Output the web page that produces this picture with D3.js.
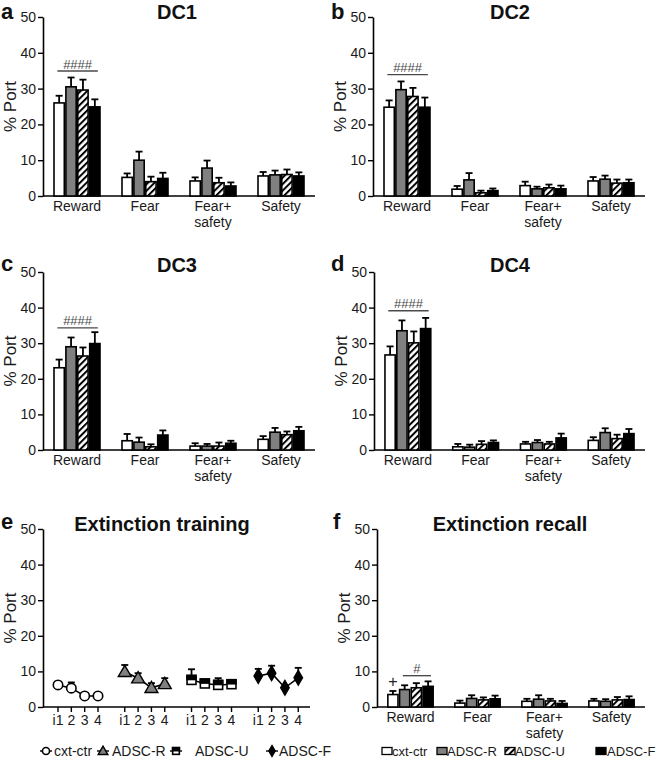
<!DOCTYPE html>
<html>
<head>
<meta charset="utf-8">
<script src="https://cdn.jsdelivr.net/npm/d3@7"></script>
<style>
  body { margin: 0; background: #fff; }
  svg { display: block; font-family: Arial, "Liberation Sans", sans-serif; }
</style>
</head>
<body>
<svg id="chart" width="660" height="765"></svg>
<script>
// ---------------- DATA ----------------
const categories = ["Reward", "Fear", "Fear+\nsafety", "Safety"];
const groups = ["cxt-ctr", "ADSC-R", "ADSC-U", "ADSC-F"];
const yTicks = [0, 10, 20, 30, 40, 50];
const trialLabels = ["i1", "2", "3", "4"];

// means per category (rows) x group (cols)
const dc1Mean = [[26.0, 30.5, 29.6, 24.9], [5.2, 10.0, 4.0, 4.9], [4.2, 7.8, 3.7, 2.8], [5.6, 5.9, 6.0, 5.6]];
const dc1Sem  = [[2.0, 2.6, 2.9, 2.1], [1.1, 2.4, 1.4, 1.6], [1.0, 2.1, 1.4, 1.0], [1.1, 1.2, 1.4, 1.0]];
const dc2Mean = [[24.8, 29.7, 27.8, 24.8], [1.9, 4.5, 0.9, 1.5], [2.9, 2.0, 2.3, 2.0], [4.2, 4.7, 3.6, 3.7]];
const dc2Sem  = [[1.9, 2.3, 2.4, 2.7], [0.9, 1.9, 0.6, 0.6], [1.1, 0.6, 0.9, 0.9], [1.1, 1.0, 1.0, 0.9]];
const dc3Mean = [[23.1, 29.0, 26.4, 29.9], [2.6, 2.2, 0.9, 4.2], [1.1, 1.1, 1.1, 1.9], [3.0, 5.0, 4.3, 5.4]];
const dc3Sem  = [[2.3, 2.6, 2.4, 3.2], [1.9, 1.3, 0.7, 1.3], [0.8, 0.6, 1.0, 0.7], [0.9, 1.2, 0.9, 1.1]];
const dc4Mean = [[26.7, 33.5, 30.1, 34.1], [0.9, 0.8, 1.6, 2.1], [1.7, 2.1, 1.7, 3.4], [2.7, 4.9, 3.2, 4.6]];
const dc4Sem  = [[2.4, 2.9, 3.2, 3.0], [0.8, 0.7, 0.9, 0.6], [0.6, 0.7, 0.6, 1.2], [0.9, 1.2, 1.1, 1.3]];
const recallMean = [[3.5, 4.9, 5.4, 5.8], [1.1, 2.4, 2.0, 2.3], [1.6, 2.2, 1.7, 1.0], [1.7, 1.6, 2.0, 2.1]];
const recallSem  = [[1.0, 1.2, 1.3, 1.4], [0.7, 0.9, 0.7, 0.9], [0.7, 1.1, 0.6, 0.7], [0.6, 0.6, 0.8, 0.9]];

// extinction training: per group (rows) x trial (cols)
const extMean = [[6.2, 5.3, 3.1, 3.1], [9.9, 8.1, 5.4, 6.5], [7.6, 6.6, 6.2, 6.4], [8.7, 9.5, 5.4, 8.2]];
const extSem  = [[0.9, 1.6, 0.0, 0.0], [1.9, 1.4, 1.3, 1.6], [3.0, 0.8, 1.9, 0.7], [2.0, 2.1, 0.0, 2.8]];

// significance annotations (value level of the bracket)
const sigLevels = { a: 34.9, b: 33.9, c: 34.3, d: 39.1, f: 8.8 };
const sigLabels = { a: "####", b: "####", c: "####", d: "####", f: "#" };
const plusLevel = 7.1;

// ---------------- DRAW ----------------
const svg = d3.select("#chart");
const grayFill = "#808080";
const sigColor = "#4a4a4a";

const defs = svg.append("defs");
const pat = defs.append("pattern")
  .attr("id", "hatch").attr("patternUnits", "userSpaceOnUse")
  .attr("width", 4.6).attr("height", 4.6)
  .attr("patternTransform", "rotate(45)");
pat.append("rect").attr("width", 4.6).attr("height", 4.6).attr("fill", "#fff");
pat.append("line").attr("x1", 1).attr("y1", 0).attr("x2", 1).attr("y2", 4.6)
  .attr("stroke", "#000").attr("stroke-width", 2);

const barFill = ["#ffffff", grayFill, "url(#hatch)", "#000000"];

function yAxis(g, y) {
  const ax = d3.axisLeft(y).tickValues(yTicks).tickSize(5).tickSizeOuter(0).tickPadding(2);
  g.call(ax);
  g.select(".domain").attr("stroke", "#000").attr("stroke-width", 1.6);
  g.selectAll(".tick line").attr("stroke", "#000").attr("stroke-width", 1.4);
  g.selectAll(".tick text").attr("font-size", 14).attr("fill", "#1a1a1a")
    .attr("font-family", "Arial, 'Liberation Sans', sans-serif");
}

function frame(p) {
  const y = d3.scaleLinear().domain([0, 50]).range([p.yb, p.yt]);
  const g = svg.append("g");
  g.append("g").attr("transform", `translate(${p.x0},0)`).call(yAxis, y);
  g.append("line").attr("x1", p.x0).attr("x2", p.x1).attr("y1", p.yb).attr("y2", p.yb)
    .attr("stroke", "#000").attr("stroke-width", 1.6);
  g.append("text")
    .attr("transform", `translate(${p.x0 - 27},${(p.yt + p.yb) / 2}) rotate(-90)`)
    .attr("text-anchor", "middle").attr("font-size", 17).attr("fill", "#1a1a1a")
    .text("% Port");
  g.append("text").attr("x", p.lx).attr("y", p.ly).attr("font-size", 22)
    .attr("font-weight", "bold").attr("fill", "#111").text(p.letter);
  g.append("text").attr("x", p.tx).attr("y", p.ty).attr("text-anchor", "middle")
    .attr("font-size", 20).attr("font-weight", "bold").attr("fill", "#111").text(p.title);
  return { g, y };
}

function barPanel(p, means, sems) {
  const { g, y } = frame(p);
  const x = d3.scaleBand().domain(categories).range([p.x0, p.x1]).paddingInner(0.3).paddingOuter(0.15);
  const xi = d3.scaleBand().domain(groups).range([0, x.bandwidth()]);
  categories.forEach(c => {
    const lines = c.split("\n");
    const t = g.append("text").attr("text-anchor", "middle").attr("font-size", 14).attr("fill", "#1a1a1a");
    lines.forEach((ln, i) => {
      t.append("tspan").attr("x", x(c) + x.bandwidth() / 2).attr("y", p.yb + 15 + i * 16).text(ln);
    });
  });
  categories.forEach((c, ci) => {
    const cg = g.append("g").attr("transform", `translate(${x(c)},0)`);
    groups.forEach((gr, gi) => {
      const m = means[ci][gi], s = sems[ci][gi];
      const bx = xi(gr), bw = xi.bandwidth();
      const cx = bx + bw / 2;
      if (s > 0) {
        cg.append("line").attr("x1", cx).attr("x2", cx).attr("y1", y(m)).attr("y2", y(m + s))
          .attr("stroke", "#000").attr("stroke-width", 1.8);
        cg.append("line").attr("x1", cx - 3.5).attr("x2", cx + 3.5).attr("y1", y(m + s)).attr("y2", y(m + s))
          .attr("stroke", "#000").attr("stroke-width", 1.8);
      }
      cg.append("rect").attr("x", bx + 0.8).attr("y", y(m)).attr("width", bw - 1.6)
        .attr("height", y(0) - y(m)).attr("fill", barFill[gi]).attr("stroke", "#000").attr("stroke-width", 1.6);
    });
  });
  return { g, x, xi, y };
}

function sigBracket(ctx, level, label, fromGroup, toGroup) {
  const { g, x, xi, y } = ctx;
  const xa = x(categories[0]) + xi(fromGroup) + xi.bandwidth() * 0.35;
  const xb = x(categories[0]) + xi(toGroup) + xi.bandwidth() * 0.75;
  g.append("line").attr("x1", xa).attr("x2", xb).attr("y1", y(level)).attr("y2", y(level))
    .attr("stroke", sigColor).attr("stroke-width", 1.4);
  g.append("text").attr("x", (xa + xb) / 2).attr("y", y(level) - 2.5).attr("text-anchor", "middle")
    .attr("font-size", 13).attr("fill", sigColor).text(label);
}

const pa = barPanel({ x0: 43, x1: 315, yt: 17, yb: 196, letter: "a", lx: 1, ly: 19, title: "DC1", tx: 177, ty: 19 }, dc1Mean, dc1Sem);
sigBracket(pa, sigLevels.a, sigLabels.a, "cxt-ctr", "ADSC-F");
const pb = barPanel({ x0: 373, x1: 645, yt: 17, yb: 196, letter: "b", lx: 331, ly: 19, title: "DC2", tx: 510, ty: 19 }, dc2Mean, dc2Sem);
sigBracket(pb, sigLevels.b, sigLabels.b, "cxt-ctr", "ADSC-F");
const pc = barPanel({ x0: 43, x1: 315, yt: 272, yb: 450, letter: "c", lx: 1, ly: 271, title: "DC3", tx: 177, ty: 272 }, dc3Mean, dc3Sem);
sigBracket(pc, sigLevels.c, sigLabels.c, "cxt-ctr", "ADSC-F");
const pd = barPanel({ x0: 374, x1: 645, yt: 272, yb: 450, letter: "d", lx: 331, ly: 271, title: "DC4", tx: 510, ty: 272 }, dc4Mean, dc4Sem);
sigBracket(pd, sigLevels.d, sigLabels.d, "cxt-ctr", "ADSC-F");
const pf = barPanel({ x0: 377, x1: 645, yt: 529, yb: 707, letter: "f", lx: 333, ly: 529, title: "Extinction recall", tx: 510, ty: 531 }, recallMean, recallSem);
sigBracket(pf, sigLevels.f, sigLabels.f, "ADSC-R", "ADSC-F");
{
  const cxp = pf.x(categories[0]) + pf.xi("cxt-ctr") + pf.xi.bandwidth() / 2;
  pf.g.append("text").attr("x", cxp).attr("y", pf.y(plusLevel) + 5).attr("text-anchor", "middle")
    .attr("font-size", 16).attr("fill", "#222").text("+");
}

// ---- panel e: extinction training line plot ----
const pe = { x0: 43, x1: 310, yt: 529, yb: 707, letter: "e", lx: 1, ly: 529, title: "Extinction training", tx: 162, ty: 531 };
const sym = [d3.symbolCircle, d3.symbolTriangle, d3.symbolSquare, d3.symbolDiamond];
const symSize = [70, 72, 80, 66];

function drawMarker(sel, gi, cx, cy, k) {
  const s = d3.symbol().type(sym[gi]).size(symSize[gi] * k * k)();
  if (gi === 0) {
    sel.append("path").attr("d", s).attr("transform", `translate(${cx},${cy})`)
      .attr("fill", "#fff").attr("stroke", "#000").attr("stroke-width", 1.6);
  } else if (gi === 1) {
    sel.append("path").attr("d", s).attr("transform", `translate(${cx},${cy + 1 * k})`)
      .attr("fill", grayFill).attr("stroke", "#000").attr("stroke-width", 1.4);
  } else if (gi === 2) {
    const h = Math.sqrt(symSize[2]) * k;
    sel.append("rect").attr("x", cx - h / 2).attr("y", cy - h / 2).attr("width", h).attr("height", h)
      .attr("fill", "#fff").attr("stroke", "#000").attr("stroke-width", 1.6);
    sel.append("rect").attr("x", cx - h / 2).attr("y", cy - h / 2).attr("width", h).attr("height", h * 0.45)
      .attr("fill", "#000").attr("stroke", "#000").attr("stroke-width", 1.6);
  } else {
    sel.append("path").attr("d", s).attr("transform", `translate(${cx},${cy})`)
      .attr("fill", "#000").attr("stroke", "#000").attr("stroke-width", 1.2);
  }
}

{
  const { g, y } = frame(pe);
  const x = d3.scaleBand().domain(groups).range([pe.x0, pe.x1]).paddingInner(0.3).paddingOuter(0.15);
  const xt = d3.scalePoint().domain(trialLabels).range([5, 45]);
  groups.forEach((gr, gi) => {
    const gg = g.append("g").attr("transform", `translate(${x(gr)},0)`);
    trialLabels.forEach(t => {
      gg.append("line").attr("x1", xt(t)).attr("x2", xt(t)).attr("y1", pe.yb).attr("y2", pe.yb + 5)
        .attr("stroke", "#000").attr("stroke-width", 1.4);
      gg.append("text").attr("x", xt(t)).attr("y", pe.yb + 18).attr("text-anchor", "middle")
        .attr("font-size", 14).attr("fill", "#1a1a1a").text(t);
    });
    const pts = trialLabels.map((t, ti) => ({ t, m: extMean[gi][ti], s: extSem[gi][ti] }));
    pts.forEach(d => {
      if (d.s > 0) {
        gg.append("line").attr("x1", xt(d.t)).attr("x2", xt(d.t)).attr("y1", y(d.m)).attr("y2", y(d.m + d.s))
          .attr("stroke", "#000").attr("stroke-width", 1.8);
        gg.append("line").attr("x1", xt(d.t) - 3.5).attr("x2", xt(d.t) + 3.5).attr("y1", y(d.m + d.s)).attr("y2", y(d.m + d.s))
          .attr("stroke", "#000").attr("stroke-width", 1.8);
      }
    });
    gg.append("path").datum(pts)
      .attr("d", d3.line().x(d => xt(d.t)).y(d => y(d.m)))
      .attr("fill", "none").attr("stroke", "#000").attr("stroke-width", 1.6);
    pts.forEach(d => drawMarker(gg, gi, xt(d.t), y(d.m), 1));
  });
}

// legend e
const legE = [{ lx: 46, tx: 54 }, { lx: 103, tx: 112 }, { lx: 176, tx: 195 }, { lx: 272, tx: 279 }];
legE.forEach((l, gi) => {
  svg.append("line").attr("x1", l.lx - 6).attr("x2", l.lx + 6).attr("y1", 751).attr("y2", 751)
    .attr("stroke", "#000").attr("stroke-width", 1.4);
  drawMarker(svg, gi, l.lx, 751, 0.75);
  svg.append("text").attr("x", l.tx).attr("y", 756).attr("font-size", 14).attr("fill", "#1a1a1a").text(groups[gi]);
});

// legend f (bar legend)
const legF = [{ rx: 382, tx: 392 }, { rx: 437, tx: 447 }, { rx: 505, tx: 515 }, { rx: 596, tx: 607 }];
legF.forEach((l, gi) => {
  svg.append("rect").attr("x", l.rx).attr("y", 747.5).attr("width", 10).attr("height", 7)
    .attr("fill", barFill[gi]).attr("stroke", "#000").attr("stroke-width", 1.3);
  svg.append("text").attr("x", l.tx).attr("y", 756).attr("font-size", 13).attr("fill", "#1a1a1a").text(groups[gi]);
});
</script>
</body>
</html>
